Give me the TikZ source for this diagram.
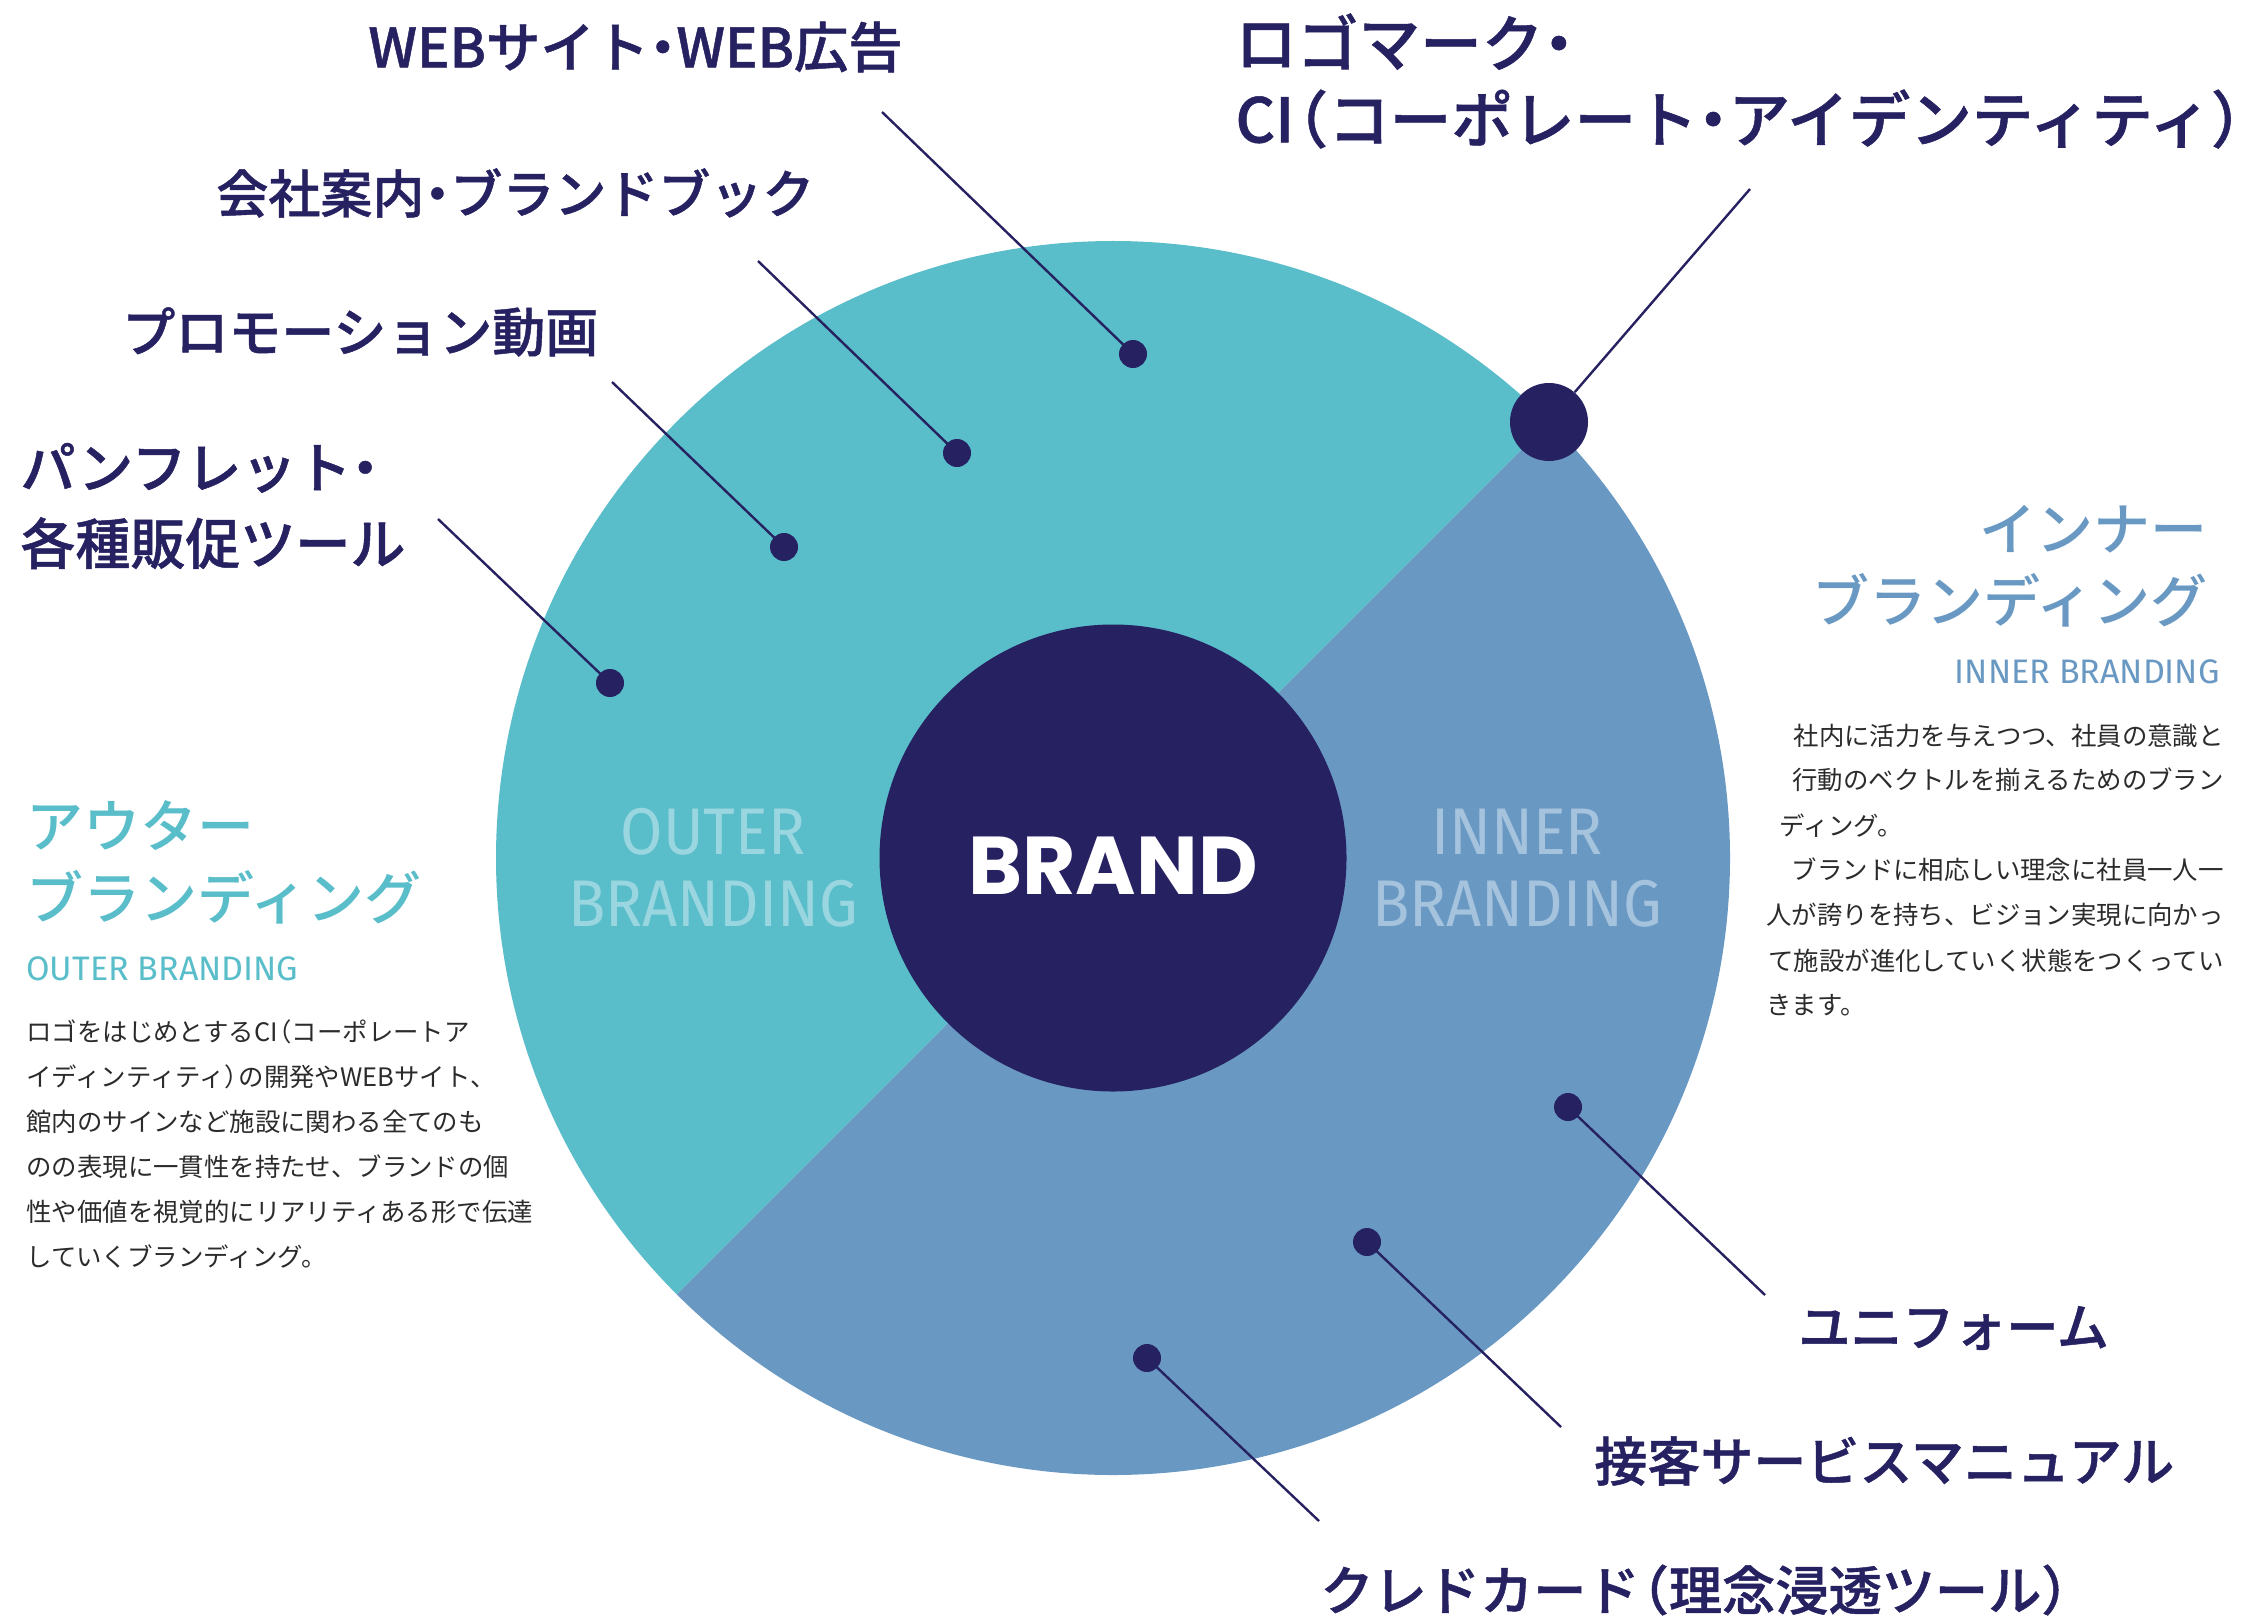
\documentclass[tikz,border=0pt]{standalone}
\usepackage{fontspec}
\setmainfont{Noto Sans CJK JP}
\newfontfamily\jpfont{Noto Sans CJK JP}
\newfontfamily\jpmed{Noto Sans CJK JP}[UprightFont={* Medium}]
\newfontfamily\jplbl{Noto Sans CJK JP}[UprightFont={* Medium},FakeBold=0.9]
\newfontfamily\brandfont{Poppins}
\newfontfamily\dinfont{Fira Sans}[FakeStretch=0.93]
\newfontfamily\dinhead{Fira Sans}
\newcommand{\nd}{\hspace{-0.25em}・\hspace{-0.25em}}
\newcommand{\lp}{\hspace{-0.45em}（}
\newcommand{\rp}{）\hspace{-0.45em}}
\definecolor{cteal}{HTML}{5ABDCA}
\definecolor{cblue}{HTML}{6999C3}
\definecolor{cnavy}{HTML}{262161}
\definecolor{lteal}{HTML}{9AD6E0}
\definecolor{lblue}{HTML}{A6C3DE}
\definecolor{ctext}{HTML}{2B2B2B}
\tikzset{
  dot/.style={circle,fill=cnavy,inner sep=0pt,minimum size=14pt},
  bigdot/.style={circle,fill=cnavy,inner sep=0pt,minimum size=39pt},
  leader/.style={draw=cnavy,line width=1.2pt},
  lbl/.style={inner sep=0pt,text=cnavy,align=left,font=\jplbl\fontsize{26.5}{38}\selectfont},
  headjp/.style={inner sep=0pt,font=\jpmed\fontsize{28.5}{36}\selectfont},
  headen/.style={inner sep=0pt,font=\dinhead\fontsize{17}{18}\selectfont},
  circtxt/.style={inner sep=0pt,align=center,font=\dinfont\fontsize{33}{34}\selectfont},
  desc/.style={inner sep=0pt,text=ctext,font=\jpfont\fontsize{12.7}{22.5}\selectfont},
}
\begin{document}
\begin{tikzpicture}[x=0.5pt,y=-0.5pt]
\useasboundingbox (0,0) rectangle (2246,1621);
\coordinate (C) at (1113,858);
% outer disc halves
\fill[cteal] (C) ++(45:308.5pt) arc[start angle=45,end angle=225,radius=308.5pt] -- cycle;
\fill[cblue] (C) ++(225:308.5pt) arc[start angle=225,end angle=405,radius=308.5pt] -- cycle;
% centre
\node[circle,fill=cnavy,inner sep=0pt,minimum size=233.5pt] (brand) at (C) {};
\node[inner sep=0pt,text=white,font=\brandfont\bfseries\fontsize{41}{42}\selectfont] (brandtxt) at (1113,866) {BRAND};
% circle labels
\node[circtxt,text=lteal] (outerc) at (713,868) {OUTER\\[2pt]BRANDING};
\node[circtxt,text=lblue] (innerc) at (1517,868) {INNER\\[2pt]BRANDING};
% dots
\node[dot] (d1) at (1133,354) {};
\node[dot] (d2) at (957,453) {};
\node[dot] (d3) at (784,547) {};
\node[dot] (d4) at (610,683) {};
\node[bigdot] (d5) at (1549,422) {};
\node[dot] (d6) at (1568,1107) {};
\node[dot] (d7) at (1367,1242) {};
\node[dot] (d8) at (1147,1358) {};
% leader ends
\coordinate (e1) at (882,112);
\coordinate (e2) at (758,261);
\coordinate (e3) at (612,382);
\coordinate (e4) at (438,519);
\coordinate (e5) at (1750,189);
\coordinate (e6) at (1765,1295);
\coordinate (e7) at (1561,1427);
\coordinate (e8) at (1319,1521);
\draw[leader] (d1.center) -- (e1);
\draw[leader] (d2.center) -- (e2);
\draw[leader] (d3.center) -- (e3);
\draw[leader] (d4.center) -- (e4);
\draw[leader] (d5) -- (e5);
\draw[leader] (d6.center) -- (e6);
\draw[leader] (d7.center) -- (e7);
\draw[leader] (d8.center) -- (e8);
% labels
\node[lbl,anchor=west,font=\jplbl\fontsize{27.2}{38}\selectfont] (l1) at (368,47) {WEBサイト\nd WEB広告};
\node[lbl,anchor=west,font=\jplbl\fontsize{30.8}{38}\selectfont] (l5) at (1235,81) {ロゴマーク\nd\\CI\lp コーポレート\nd アイデンティティ\rp};
\node[lbl,anchor=west,font=\jplbl\fontsize{26}{38}\selectfont] (l2) at (216,193) {会社案内\nd ブランドブック};
\node[lbl,anchor=west] (l3) at (122,332) {プロモーション動画};
\node[lbl,anchor=west,font=\jplbl\fontsize{27.5}{38}\selectfont] (l4) at (20,506) {パンフレット\nd\\各種販促ツール};
\node[lbl,anchor=west,font=\jplbl\fontsize{26}{38}\selectfont] (l6) at (1798,1328) {ユニフォーム};
\node[lbl,anchor=west] (l7) at (1594,1461) {接客サービスマニュアル};
\node[lbl,anchor=west,font=\jplbl\fontsize{26.6}{38}\selectfont] (l8) at (1320,1590) {クレドカード\lp 理念浸透ツール\rp};
% outer heading
\node[headjp,text=cteal,anchor=west,align=left] (oh) at (26,862) {アウター\\ブランディング};
\node[headen,text=cteal,anchor=west] (oe) at (26,969) {OUTER BRANDING};
\node[desc,anchor=base west,align=left] (od) at (26,1266) {ロゴをはじめとするCI\lp コーポレートア\\イディンティティ\rp の開発やWEBサイト、\\館内のサインなど施設に関わる全てのも\\のの表現に一貫性を持たせ、ブランドの個\\性や価値を視覚的にリアリティある形で伝達\\していくブランディング。};
% inner heading
\node[headjp,text=cblue,anchor=east,align=right] (ih) at (2208,566) {インナー\\ブランディング};
\node[headen,text=cblue,anchor=east] (ie) at (2220,672) {INNER BRANDING};
\node[desc,anchor=base east] (i1) at (2224,745) {社内に活力を与えつつ、社員の意識と};
\node[desc,anchor=base east] (i2) at (2224,789) {行動のベクトルを揃えるためのブラン};
\node[desc,anchor=base west] (i3) at (1779,835) {ディング。};
\node[desc,anchor=base east] (i4) at (2224,879) {ブランドに相応しい理念に社員一人一};
\node[desc,anchor=base east] (i5) at (2224,924) {人が誇りを持ち、ビジョン実現に向かっ};
\node[desc,anchor=base east] (i6) at (2224,970) {て施設が進化していく状態をつくってい};
\node[desc,anchor=base west] (i7) at (1766,1014) {きます。};
\end{tikzpicture}
\end{document}
